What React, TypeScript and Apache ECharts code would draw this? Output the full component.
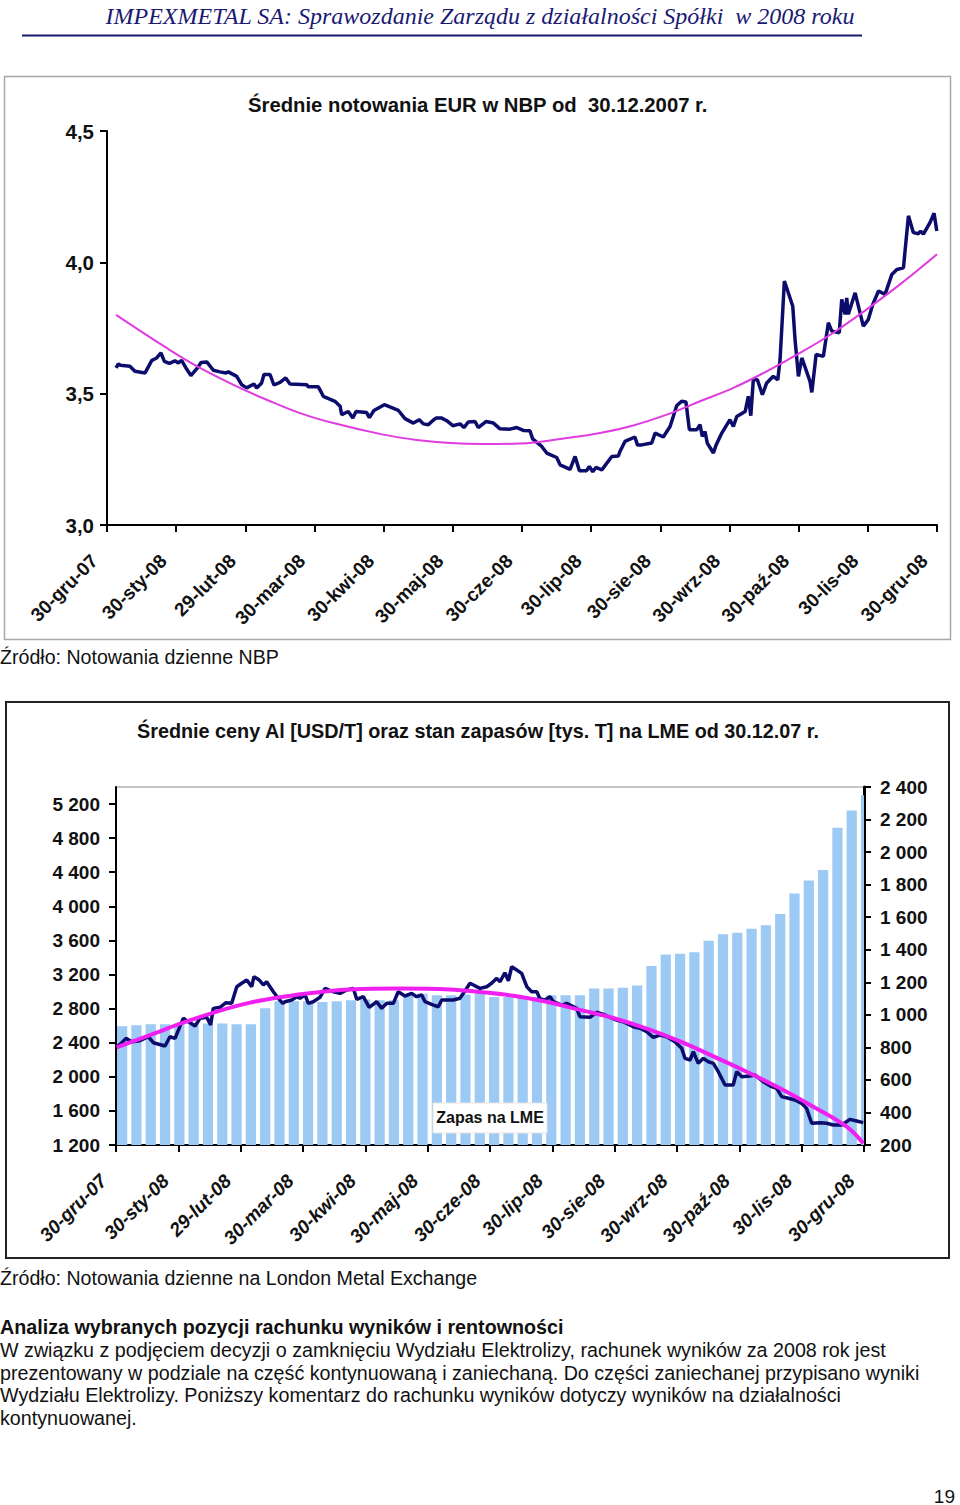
import React, { useEffect, useRef } from 'react';
import * as echarts from 'echarts';

// ---------- tick labels ----------
const monthLabels = ['30-gru-07', '30-sty-08', '29-lut-08', '30-mar-08', '30-kwi-08', '30-maj-08', '30-cze-08', '30-lip-08', '30-sie-08', '30-wrz-08', '30-paź-08', '30-lis-08', '30-gru-08'];
const DAY_STEP = 30.5; // days between month ticks (0 = 30.12.2007, 366 = 30.12.2008)

// ---------- chart 1: EUR/PLN (NBP) ----------
const eurDay = [4.0, 5.0, 6.0, 10.1, 12.3, 16.8, 19.7, 21.9, 23.8, 25.3, 27.5, 30.0, 31.4, 32.9, 34.8, 37.0, 39.6, 41.5, 44.0, 46.9, 49.8, 52.5, 53.5, 57.2, 59.4, 61.6, 64.8, 66.0, 68.2, 69.2, 71.9, 73.6, 76.3, 78.8, 80.7, 88.1, 88.8, 93.2, 95.4, 100.5, 102.8, 103.5, 106.4, 108.4, 109.8, 114.5, 115.7, 117.7, 122.3, 128.5, 131.4, 135.1, 137.7, 139.5, 141.7, 143.6, 145.1, 147.6, 149.8, 152.5, 155.7, 157.4, 159.3, 162.3, 163.7, 167.1, 170.4, 173.3, 177.7, 180.7, 183.6, 186.5, 187.7, 191.7, 193.9, 198.3, 199.8, 204.2, 206.4, 208.3, 211.5, 212.7, 214.2, 215.6, 218.2, 222.6, 225.5, 226.2, 228.4, 232.8, 233.9, 235.8, 240.2, 241.7, 245.3, 248.3, 251.2, 253.4, 255.3, 256.8, 260.1, 261.5, 262.5, 263.7, 264.7, 267.4, 268.6, 271.1, 274.7, 276.2, 277.7, 281.4, 282.8, 283.9, 285.0, 286.8, 289.0, 290.9, 293.8, 295.8, 296.8, 298.7, 302.4, 303.4, 304.9, 306.4, 310.0, 310.8, 312.7, 315.9, 318.1, 319.6, 322.9, 324.0, 325.5, 326.2, 326.9, 329.9, 333.5, 335.7, 337.7, 340.2, 343.1, 346.1, 348.3, 351.2, 353.4, 355.6, 357.8, 358.8, 360.0, 362.9, 364.7, 365.9];
const eurRate = [3.598, 3.613, 3.608, 3.604, 3.585, 3.579, 3.626, 3.636, 3.655, 3.623, 3.615, 3.625, 3.617, 3.627, 3.598, 3.569, 3.595, 3.619, 3.621, 3.589, 3.583, 3.579, 3.583, 3.566, 3.534, 3.522, 3.537, 3.522, 3.541, 3.573, 3.573, 3.533, 3.543, 3.560, 3.537, 3.534, 3.526, 3.526, 3.490, 3.471, 3.452, 3.420, 3.432, 3.407, 3.432, 3.428, 3.409, 3.436, 3.458, 3.436, 3.405, 3.388, 3.401, 3.385, 3.382, 3.397, 3.407, 3.407, 3.397, 3.378, 3.385, 3.371, 3.392, 3.394, 3.371, 3.394, 3.388, 3.366, 3.365, 3.371, 3.360, 3.359, 3.328, 3.299, 3.274, 3.257, 3.229, 3.212, 3.261, 3.207, 3.207, 3.223, 3.203, 3.219, 3.210, 3.261, 3.263, 3.280, 3.318, 3.335, 3.305, 3.305, 3.312, 3.350, 3.335, 3.375, 3.454, 3.471, 3.468, 3.363, 3.363, 3.382, 3.337, 3.356, 3.312, 3.274, 3.305, 3.350, 3.401, 3.375, 3.413, 3.432, 3.490, 3.416, 3.553, 3.553, 3.496, 3.541, 3.566, 3.553, 3.630, 3.929, 3.833, 3.706, 3.566, 3.636, 3.547, 3.505, 3.649, 3.642, 3.770, 3.738, 3.732, 3.859, 3.802, 3.865, 3.802, 3.884, 3.757, 3.782, 3.840, 3.891, 3.878, 3.954, 3.973, 3.979, 4.177, 4.113, 4.109, 4.119, 4.107, 4.151, 4.187, 4.119];
const eurTrendDay = [4.0, 26.3, 41.0, 58.6, 70.4, 85.1, 99.8, 121.8, 136.6, 151.2, 165.9, 182.1, 202.7, 217.4, 232.1, 246.8, 261.5, 276.2, 290.9, 305.6, 320.3, 335.0, 349.7, 366.0];
const eurTrend = [3.80, 3.674, 3.598, 3.522, 3.477, 3.426, 3.388, 3.344, 3.324, 3.312, 3.308, 3.310, 3.331, 3.350, 3.379, 3.420, 3.471, 3.522, 3.585, 3.655, 3.732, 3.821, 3.916, 4.031];

// ---------- chart 2: Al price [USD/t] and LME stocks [kt] ----------
const alDay = [0.3, 2.8, 4.9, 7.7, 11.7, 15.8, 18.3, 24.0, 26.4, 28.9, 32.9, 36.2, 38.7, 41.1, 44.4, 46.3, 47.6, 50.9, 53.8, 56.6, 59.1, 61.5, 64.0, 66.4, 67.5, 70.1, 72.1, 73.7, 77.0, 79.4, 81.6, 82.7, 86.0, 88.4, 90.0, 92.5, 94.1, 96.5, 99.8, 102.3, 106.3, 109.6, 112.9, 116.1, 117.8, 121.0, 123.9, 127.6, 130.0, 132.5, 135.7, 138.1, 141.4, 144.7, 147.1, 149.6, 151.2, 155.3, 157.7, 159.4, 165.0, 168.3, 170.8, 173.2, 178.1, 181.4, 183.8, 186.3, 187.9, 190.3, 192.0, 193.6, 196.1, 198.5, 201.0, 203.4, 205.9, 207.5, 209.9, 212.4, 214.0, 218.1, 220.5, 225.4, 227.0, 231.9, 235.2, 239.3, 241.7, 245.0, 248.2, 253.1, 256.4, 259.7, 262.9, 266.2, 269.5, 273.5, 276.8, 278.4, 280.9, 282.5, 284.9, 287.4, 289.8, 292.3, 294.7, 298.0, 302.0, 303.7, 306.2, 310.2, 312.7, 316.7, 320.8, 323.3, 325.7, 329.0, 332.2, 335.5, 337.9, 340.4, 344.5, 347.7, 351.0, 355.1, 359.1, 362.4, 365.6];
const alPrice = [2346, 2400, 2451, 2412, 2424, 2470, 2400, 2361, 2470, 2451, 2686, 2635, 2596, 2686, 2698, 2608, 2803, 2815, 2869, 2862, 3057, 3097, 3136, 3057, 3174, 3136, 3077, 3116, 2998, 2921, 2862, 2881, 2901, 2940, 2921, 2960, 2862, 2881, 2933, 3038, 2998, 2979, 3018, 3038, 2909, 2940, 2815, 2881, 2803, 2862, 2862, 2998, 2948, 2979, 2940, 2960, 2881, 2842, 2822, 2901, 2901, 2921, 3010, 3097, 3038, 3057, 3097, 3155, 3116, 3221, 3127, 3291, 3253, 3214, 3057, 2998, 2998, 2913, 2901, 2940, 2881, 2842, 2862, 2803, 2705, 2698, 2757, 2725, 2698, 2666, 2646, 2588, 2569, 2529, 2463, 2490, 2470, 2412, 2334, 2217, 2197, 2294, 2158, 2217, 2177, 2158, 2060, 1904, 1904, 2060, 2001, 2009, 2021, 1943, 1884, 1865, 1767, 1748, 1728, 1689, 1630, 1455, 1462, 1455, 1435, 1435, 1501, 1482, 1462];
const alTrendDay = [0.3, 16.6, 32.9, 49.3, 65.6, 81.7, 97.9, 114.5, 139.0, 163.4, 178.1, 194.4, 210.7, 227.0, 243.3, 259.7, 276.0, 292.3, 308.6, 324.9, 341.2, 357.5, 365.6];
const alTrend = [2346, 2490, 2635, 2765, 2870, 2940, 2990, 3025, 3035, 3025, 2995, 2950, 2880, 2785, 2690, 2565, 2415, 2240, 2060, 1865, 1650, 1415, 1220];
// weekly LME stock level (thousand t), week k starts on Monday = day 1 + 7k
const stockWeekly = [930, 936, 942, 942, 947, 942, 947, 947, 942, 942, 1040, 1083, 1083, 1083, 1079, 1083, 1090, 1094, 1090, 1090, 1125, 1130, 1120, 1120, 1125, 1130, 1110, 1110, 1110, 1110, 1120, 1120, 1120, 1161, 1161, 1167, 1180, 1300, 1370, 1375, 1385, 1455, 1495, 1505, 1529, 1550, 1620, 1745, 1826, 1890, 2150, 2255, 2350];
const STOCK_MIN = 200;

// ---------- texts ----------
const headerText = 'IMPEXMETAL SA: Sprawozdanie Zarządu z działalności Spółki  w 2008 roku';
const title1 = 'Średnie notowania EUR w NBP od  30.12.2007 r.';
const title2 = 'Średnie ceny Al [USD/T] oraz stan zapasów [tys. T] na LME od 30.12.07 r.';
const source1 = 'Źródło: Notowania dzienne NBP';
const source2 = 'Źródło: Notowania dzienne na London Metal Exchange';
const heading = 'Analiza wybranych pozycji rachunku wyników i rentowności';
const paragraph = [
  'W związku z podjęciem decyzji o zamknięciu Wydziału Elektrolizy, rachunek wyników za 2008 rok jest',
  'prezentowany w podziale na część kontynuowaną i zaniechaną. Do części zaniechanej przypisano wyniki',
  'Wydziału Elektrolizy. Poniższy komentarz do rachunku wyników dotyczy wyników na działalności',
  'kontynuowanej.',
];
const stockLabel = 'Zapas na LME';

const SANS = '"Liberation Sans", Arial, sans-serif';
const NAVY = '#0c0c6c';

function txt(x: number, y: number, text: string, font: string, align = 'left', fill = '#111') {
  return {
    type: 'text', x, y, z: 20,
    style: { text, font, fill, align, verticalAlign: 'middle', textAlign: align, textVerticalAlign: 'middle' },
  };
}

const pairs = (xs: number[], ys: number[]) => xs.map((x, i) => [x, ys[i]]);
const monthFmt = (v: number) => monthLabels[Math.round(v / DAY_STEP)] ?? '';
const spaceThousands = (v: number) => String(v).replace(/\B(?=(\d{3})+(?!\d))/g, ' ');

export default function App() {
  const ref = useRef<HTMLDivElement>(null);
  useEffect(() => {
    document.body.style.margin = '0';
    const chart = echarts.init(ref.current!, undefined, { renderer: 'svg' });
    const xLabel = (italic: boolean) => ({
      rotate: 45, margin: 20, padding: [0, 18, 0, 0],
      fontSize: 19, fontWeight: 'bold', fontStyle: italic ? 'italic' : 'normal',
      color: '#111', fontFamily: SANS, formatter: monthFmt,
      showMinLabel: true, showMaxLabel: true, hideOverlap: false,
    });
    const axisBlack = (w: number) => ({ show: true, lineStyle: { color: '#000', width: w } });
    const tick = { show: true, length: 7, lineStyle: { color: '#000', width: 2 } };
    chart.setOption({
      animation: false,
      backgroundColor: '#fff',
      textStyle: { fontFamily: SANS },
      grid: [
        { left: 107, top: 131, width: 830, height: 394, containLabel: false, outerBoundsMode: 'none' },
        { left: 116, top: 787, width: 748, height: 358, containLabel: false, outerBoundsMode: 'none', show: true, borderColor: '#8a8a8a', borderWidth: 1, backgroundColor: 'transparent' },
      ],
      xAxis: [
        { type: 'value', gridIndex: 0, min: 0, max: 366, interval: DAY_STEP, axisLine: axisBlack(2), axisTick: tick, splitLine: { show: false }, axisLabel: xLabel(false) },
        { type: 'value', gridIndex: 1, min: 0, max: 366, interval: DAY_STEP, axisLine: axisBlack(2), axisTick: tick, splitLine: { show: false }, axisLabel: xLabel(true) },
      ],
      yAxis: [
        {
          type: 'value', gridIndex: 0, min: 3, max: 4.5, interval: 0.5,
          axisLine: axisBlack(2), axisTick: tick, splitLine: { show: false },
          axisLabel: { fontSize: 20.5, fontWeight: 'bold', color: '#111', margin: 13, formatter: (v: number) => v.toFixed(1).replace('.', ',') },
        },
        {
          type: 'value', gridIndex: 1, min: 1200, max: 5400, interval: 400,
          axisLine: axisBlack(2), axisTick: tick, splitLine: { show: false },
          axisLabel: { fontSize: 19, fontWeight: 'bold', color: '#111', margin: 16, showMaxLabel: false, formatter: spaceThousands },
        },
        {
          type: 'value', gridIndex: 1, position: 'right', min: STOCK_MIN, max: 2400, interval: 200,
          axisLine: axisBlack(3), axisTick: tick, splitLine: { show: false },
          axisLabel: { fontSize: 19, fontWeight: 'bold', color: '#111', margin: 16, formatter: spaceThousands },
        },
      ],
      series: [
        {
          type: 'line', xAxisIndex: 0, yAxisIndex: 0, data: pairs(eurDay, eurRate), showSymbol: false, z: 3,
          lineStyle: { color: NAVY, width: 3.5 }, itemStyle: { color: NAVY },
        },
        {
          type: 'line', xAxisIndex: 0, yAxisIndex: 0, data: pairs(eurTrendDay, eurTrend), showSymbol: false, smooth: 0.4, z: 4,
          lineStyle: { color: '#e03ce0', width: 2 }, itemStyle: { color: '#e03ce0' },
        },
        {
          type: 'custom', xAxisIndex: 1, yAxisIndex: 2, z: 1,
          data: stockWeekly.map((v, k) => [1 + 7 * k, v]),
          encode: { x: 0, y: 1 },
          renderItem: (params: any, api: any) => {
            const monday = api.value(0);
            const v = api.value(1);
            const p0 = api.coord([monday - 0.5, v]);
            const p1 = api.coord([monday + 4.5, STOCK_MIN]);
            const cs = params.coordSys;
            const shape = echarts.graphic.clipRectByRect(
              { x: p0[0], y: p0[1], width: p1[0] - p0[0], height: p1[1] - p0[1] },
              { x: cs.x, y: cs.y, width: cs.width, height: cs.height },
            );
            return shape ? { type: 'rect', shape, style: { fill: '#9ccaf4' } } : null;
          },
        },
        {
          type: 'line', xAxisIndex: 1, yAxisIndex: 1, data: pairs(alDay, alPrice), showSymbol: false, z: 3,
          lineStyle: { color: NAVY, width: 3.5 }, itemStyle: { color: NAVY },
        },
        {
          type: 'line', xAxisIndex: 1, yAxisIndex: 1, data: pairs(alTrendDay, alTrend), showSymbol: false, smooth: 0.4, z: 4,
          lineStyle: { color: '#f020f0', width: 4 }, itemStyle: { color: '#f020f0' },
        },
      ],
      graphic: [
        txt(480, 16, headerText, 'italic 24px "Liberation Serif", "Times New Roman", serif', 'center', '#1a1a72'),
        { type: 'line', z: 20, shape: { x1: 22, y1: 35.5, x2: 862, y2: 35.5 }, style: { stroke: '#1a1a72', lineWidth: 2 } },
        { type: 'rect', z: 0, shape: { x: 4.5, y: 76.5, width: 946, height: 563 }, style: { fill: 'none', stroke: '#a8a8a8', lineWidth: 1.5 } },
        txt(248, 105, title1, `bold 20.3px ${SANS}`),
        txt(0, 657, source1, `19.6px ${SANS}`),
        { type: 'rect', z: 0, shape: { x: 6, y: 702, width: 943, height: 556 }, style: { fill: 'none', stroke: '#222', lineWidth: 2 } },
        txt(478, 731, title2, `bold 19.8px ${SANS}`, 'center'),
        { type: 'rect', z: 10, shape: { x: 433, y: 1103, width: 114, height: 30 }, style: { fill: '#fff', stroke: '#e4e4e4', lineWidth: 1 } },
        txt(490, 1117, stockLabel, `bold 16px ${SANS}`, 'center'),
        txt(0, 1278, source2, `19.6px ${SANS}`),
        txt(0, 1327, heading, `bold 19.7px ${SANS}`),
        ...paragraph.map((line, i) => txt(0, 1350 + i * 22.6, line, `19.7px ${SANS}`)),
        txt(955, 1496, '19', `19px ${SANS}`, 'right'),
      ],
    });
    return () => chart.dispose();
  }, []);
  return <div ref={ref} style={{ position: 'absolute', left: 0, top: 0, width: 960, height: 1505 }} />;
}
